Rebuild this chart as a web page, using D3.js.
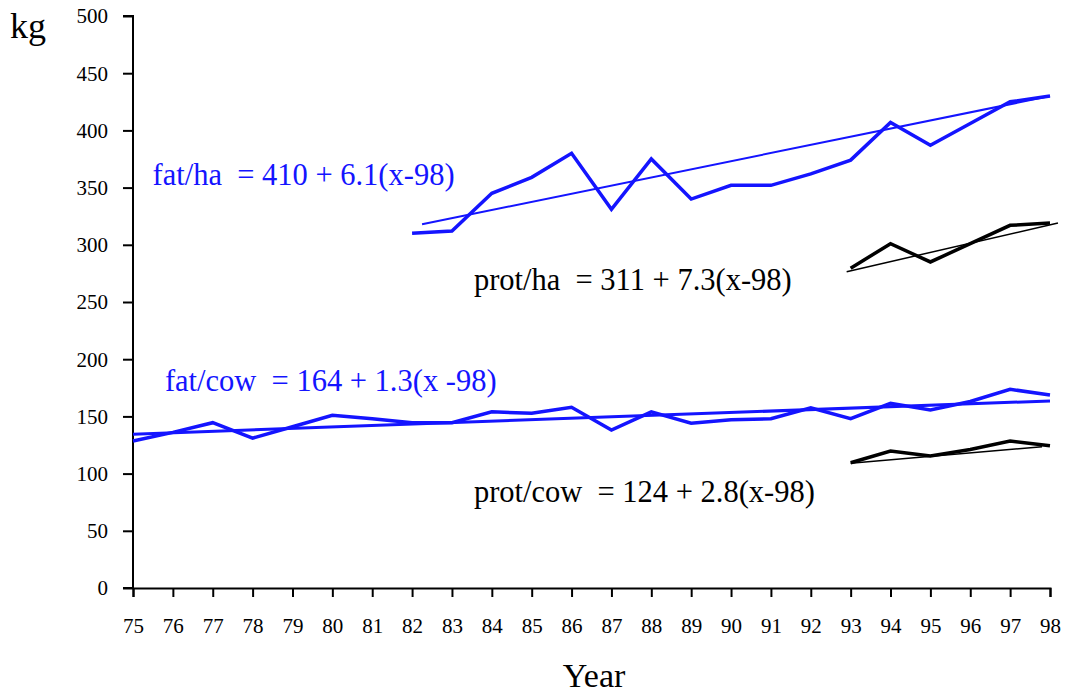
<!DOCTYPE html>
<html>
<head>
<meta charset="utf-8">
<script src="https://cdn.jsdelivr.net/npm/d3@7"></script>
<style>
  html, body { margin: 0; padding: 0; background: #fff; }
  svg text { font-family: "Liberation Serif", "Times New Roman", serif; white-space: pre; }
</style>
</head>
<body>
<svg id="chart" width="1065" height="695"></svg>
<script>
// ---- data ----
const years = d3.range(75, 99);
const fatCowYears = d3.range(75, 99);
const fatCow = [128.5, 136, 144.5, 131, 141, 151, 148, 144.5, 144.5, 154, 152.7, 158, 138, 154, 144, 147, 148, 157.6, 148, 161.4, 155.6, 163, 173.7, 168.7];
const fatHaYears = d3.range(82, 99);
const fatHa = [310, 312, 345, 359, 380, 331, 375, 340, 352, 352, 362, 374, 407, 387, 406, 425, 430];
const protHaYears = d3.range(93, 99);
const protHa = [279.5, 301, 285, 301, 317, 319];
const protCowYears = d3.range(93, 99);
const protCow = [109.5, 119.8, 115.4, 121, 128.5, 124.4];
// trend lines: [startYear, startValue], [endYear, endValue]
const fatHaTrend = [[82.25, 318], [98, 430]];
const protHaTrend = [[92.9, 276.5], [98.2, 319]];
const fatCowTrend = [[75, 134.5], [98, 163.5]];
const protCowTrend = [[93, 109], [97.8, 123.5]];
const yTicks = [0, 50, 100, 150, 200, 250, 300, 350, 400, 450, 500];
const xTicks = years;
const labels = [
  {text: "fat/ha  = 410 + 6.1(x-98)", x: 75.49, y: 352.3, color: "#1414ff"},
  {text: "prot/ha  = 311 + 7.3(x-98)", x: 83.55, y: 260.5, color: "#000"},
  {text: "fat/cow  = 164 + 1.3(x -98)", x: 75.8, y: 172, color: "#1414ff"},
  {text: "prot/cow  = 124 + 2.8(x-98)", x: 83.55, y: 75, color: "#000"}
];

// ---- layout ----
const svg = d3.select("#chart");
const mLeft = 133, mRight = 1050, mTop = 16, mBottom = 588;
const x = d3.scaleLinear().domain([75, 98]).range([mLeft, mRight]);
const y = d3.scaleLinear().domain([0, 500]).range([mBottom, mTop]);

const blue = "#1414ff";

// axes
const yAxis = svg.append("g").attr("transform", `translate(${mLeft},0)`)
  .call(d3.axisLeft(y).tickValues(yTicks).tickSize(10).tickPadding(15));
const xAxis = svg.append("g").attr("transform", `translate(0,${mBottom})`)
  .call(d3.axisBottom(x).tickValues(xTicks).tickSize(9).tickPadding(21));
[yAxis, xAxis].forEach(g => {
  g.select(".domain").attr("stroke", "#000").attr("stroke-width", 2);
  g.selectAll(".tick line").attr("stroke", "#000").attr("stroke-width", 2);
  g.selectAll(".tick text").attr("fill", "#000")
    .style("font-family", '"Liberation Serif", "Times New Roman", serif')
    .style("font-size", "21px");
});
yAxis.select(".domain").attr("d", `M-10,${mTop}H0V${mBottom}H-10`);
yAxis.selectAll(".tick text").attr("dy", "0.33em");

// lines
const line = d3.line().x(d => x(d[0])).y(d => y(d[1]));
function drawSeries(xs, vs, color, w) {
  svg.append("path").datum(xs.map((v, i) => [v, vs[i]]))
    .attr("d", line).attr("fill", "none").attr("stroke", color)
    .attr("stroke-width", w).attr("stroke-linejoin", "miter");
}
function drawTrend(pts, color, w) {
  svg.append("path").datum(pts).attr("d", line).attr("fill", "none")
    .attr("stroke", color).attr("stroke-width", w);
}
drawTrend(fatHaTrend, blue, 2);
drawSeries(fatHaYears, fatHa, blue, 3.5);
drawTrend(protHaTrend, "#000", 1.5);
drawSeries(protHaYears, protHa, "#000", 3.5);
drawTrend(fatCowTrend, blue, 3);
drawSeries(fatCowYears, fatCow, blue, 3.5);
drawTrend(protCowTrend, "#000", 1.5);
drawSeries(protCowYears, protCow, "#000", 3.5);

// equation labels
svg.selectAll("text.eq").data(labels).enter().append("text")
  .attr("class", "eq")
  .attr("x", d => x(d.x)).attr("y", d => y(d.y))
  .attr("fill", d => d.color)
  .style("font-size", "30.5px")
  .text(d => d.text);

// axis titles
svg.append("text").attr("x", 10).attr("y", 38).style("font-size", "36px").text("kg");
svg.append("text").attr("x", 594).attr("y", 687).attr("text-anchor", "middle")
  .style("font-size", "34px").text("Year");
</script>
</body>
</html>
